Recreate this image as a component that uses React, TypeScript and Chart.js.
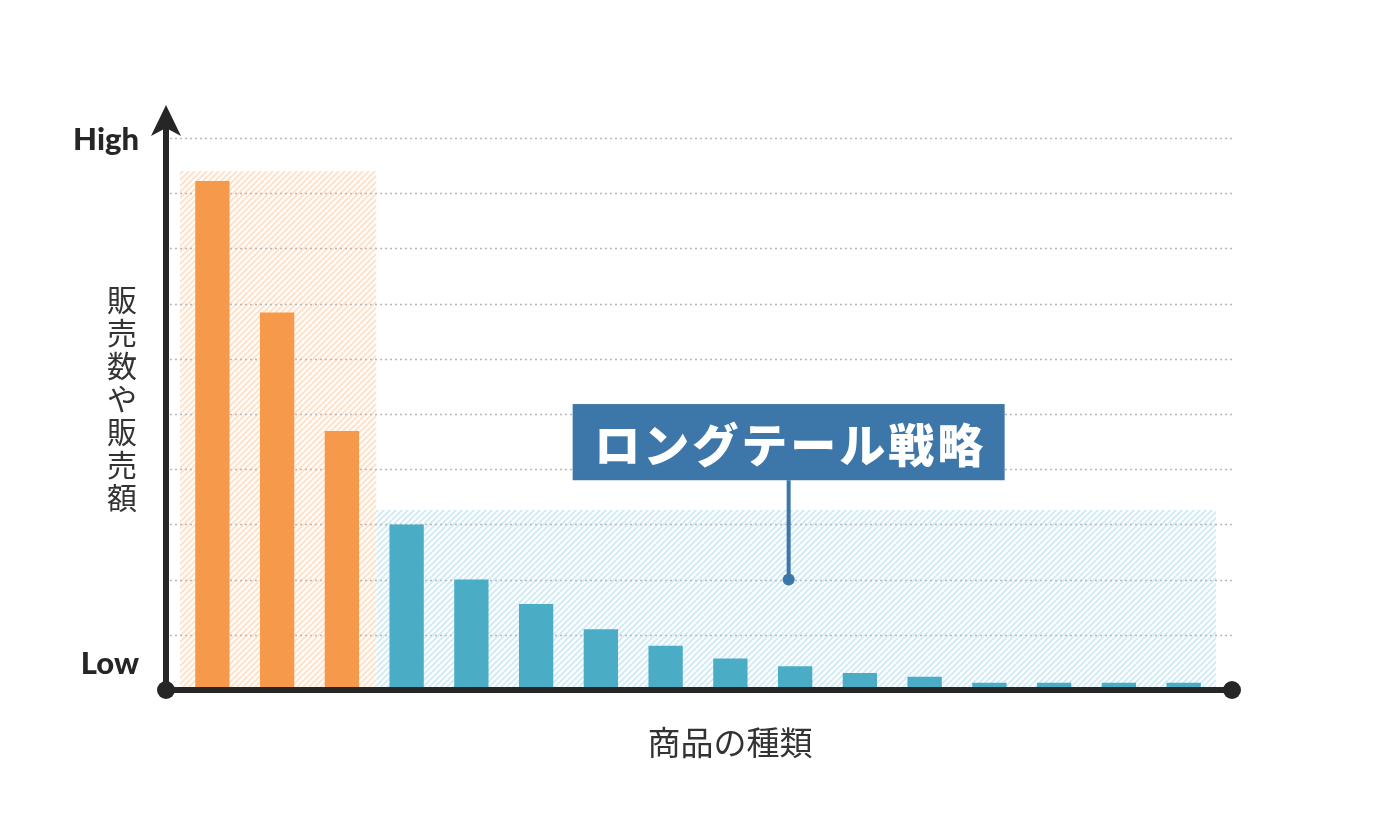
import { useEffect, useRef } from 'react';
import { Chart, registerables } from 'chart.js';

Chart.register(...registerables);

const categories = ['P1', 'P2', 'P3', 'P4', 'P5', 'P6', 'P7', 'P8', 'P9', 'P10', 'P11', 'P12', 'P13', 'P14', 'P15', 'P16'];
const salesValues = [9.22, 6.84, 4.69, 3.0, 2.0, 1.56, 1.1, 0.8, 0.57, 0.43, 0.31, 0.24, 0.13, 0.13, 0.13, 0.13];
const headCount = 3;
const gridValues = [1, 2, 3, 4, 5, 6, 7, 8, 9, 10];
const yMin = 0;
const yMax = 10;
const headZoneTop = 9.4;
const tailZoneTop = 3.26;
const yAxisTitle = '販売数や販売額';
const xAxisTitle = '商品の種類';
const highLabel = 'High';
const lowLabel = 'Low';
const calloutText = 'ロングテール戦略';
const calloutAnchorIndex = 8.9;
const calloutAnchorValue = 2;
const calloutBottomValue = 3.8;
const calloutTopValue = 5.18;

const ORANGE = '#f7994a';
const TEAL = '#4aacc5';
const CALLOUT = '#3d76a8';
const AXIS = '#262626';
const CJK = '"Noto Sans CJK JP", "Noto Sans CJK SC", sans-serif';

function makePattern(ctx: CanvasRenderingContext2D, stripe: string) {
  const size = 6;
  const c = document.createElement('canvas');
  c.width = size;
  c.height = size;
  const p = c.getContext('2d')!;
  p.fillStyle = '#ffffff';
  p.fillRect(0, 0, size, size);
  p.strokeStyle = stripe;
  p.lineWidth = 2;
  p.beginPath();
  p.moveTo(-1, size + 1);
  p.lineTo(size + 1, -1);
  p.moveTo(-1, 1);
  p.lineTo(1, -1);
  p.moveTo(size - 1, size + 1);
  p.lineTo(size + 1, size - 1);
  p.stroke();
  return ctx.createPattern(c, 'repeat')!;
}

const decorPlugin = {
  id: 'decor',
  beforeDatasetsDraw(chart: any) {
    const { ctx, chartArea, scales } = chart;
    const x = scales.x;
    const y = scales.y;
    const band = x.getPixelForValue(1) - x.getPixelForValue(0);
    const left = chartArea.left;
    const right = chartArea.right;
    const split = x.getPixelForValue(headCount - 1) + band / 2 + 2;
    const y0 = y.getPixelForValue(0);
    const axisX = left - 14;
    const axisEndX = right + 16;
    ctx.save();
    ctx.fillStyle = makePattern(ctx, '#fde2cc');
    const hTop = y.getPixelForValue(headZoneTop);
    ctx.fillRect(left, hTop, split - left, y0 - hTop);
    ctx.fillStyle = makePattern(ctx, '#d5ebf3');
    const tTop = y.getPixelForValue(tailZoneTop);
    ctx.fillRect(split, tTop, right - split, y0 - tTop);

    ctx.strokeStyle = '#b8b8b8';
    ctx.lineWidth = 1.6;
    ctx.setLineDash([2, 3]);
    gridValues.forEach((v) => {
      const py = Math.round(y.getPixelForValue(v)) + 0.5;
      ctx.beginPath();
      ctx.moveTo(axisX + 4, py);
      ctx.lineTo(axisEndX, py);
      ctx.stroke();
    });
    ctx.restore();
  },
  afterDatasetsDraw(chart: any) {
    const { ctx, chartArea, scales } = chart;
    const x = scales.x;
    const y = scales.y;
    const y0 = y.getPixelForValue(0);
    const yTop = y.getPixelForValue(yMax);
    const axisX = chartArea.left - 14;
    const axisEndX = chartArea.right + 16;
    ctx.save();
    ctx.setLineDash([]);
    ctx.strokeStyle = AXIS;
    ctx.fillStyle = AXIS;
    ctx.lineWidth = 6;
    // y axis
    const tipY = yTop - 33;
    ctx.beginPath();
    ctx.moveTo(axisX, y0);
    ctx.lineTo(axisX, tipY + 22);
    ctx.stroke();
    ctx.beginPath();
    ctx.moveTo(axisX, tipY);
    ctx.lineTo(axisX + 15, tipY + 31);
    ctx.lineTo(axisX, tipY + 23);
    ctx.lineTo(axisX - 15, tipY + 31);
    ctx.closePath();
    ctx.fill();
    // x axis
    ctx.beginPath();
    ctx.moveTo(axisX, y0);
    ctx.lineTo(axisEndX, y0);
    ctx.stroke();
    ctx.beginPath();
    ctx.arc(axisX, y0, 9, 0, Math.PI * 2);
    ctx.fill();
    ctx.beginPath();
    ctx.arc(axisEndX, y0, 9, 0, Math.PI * 2);
    ctx.fill();

    // High / Low
    ctx.font = '900 31px Lato, "Open Sans", sans-serif';
    ctx.textAlign = 'right';
    ctx.textBaseline = 'middle';
    ctx.fillStyle = AXIS;
    ctx.fillText(highLabel, axisX - 27, yTop + 2);
    ctx.fillText(lowLabel, axisX - 27, y0 - 26);

    // y title (vertical)
    ctx.font = `400 30px ${CJK}`;
    ctx.textAlign = 'center';
    ctx.fillStyle = '#333333';
    const chars = Array.from(yAxisTitle);
    chars.forEach((ch, i) => {
      ctx.fillText(ch, axisX - 44, 300 + i * 33);
    });

    // x title
    ctx.font = `400 33px ${CJK}`;
    ctx.fillText(xAxisTitle, (axisX + axisEndX) / 2 + 31, y0 + 52);

    // callout
    const ax = x.getPixelForValue(calloutAnchorIndex);
    const ay = y.getPixelForValue(calloutAnchorValue);
    const bTop = y.getPixelForValue(calloutTopValue);
    const bBot = y.getPixelForValue(calloutBottomValue);
    ctx.font = `900 46px ${CJK}`;
    (ctx as any).letterSpacing = '3px';
    const tw = ctx.measureText(calloutText).width;
    const bw = tw + 40;
    ctx.fillStyle = CALLOUT;
    ctx.fillRect(ax - bw / 2, bTop, bw, bBot - bTop);
    ctx.strokeStyle = CALLOUT;
    ctx.lineWidth = 4;
    ctx.beginPath();
    ctx.moveTo(ax, bBot);
    ctx.lineTo(ax, ay);
    ctx.stroke();
    ctx.beginPath();
    ctx.arc(ax, ay, 6, 0, Math.PI * 2);
    ctx.fill();
    ctx.fillStyle = '#ffffff';
    ctx.textAlign = 'center';
    ctx.fillText(calloutText, ax + 1.5, (bTop + bBot) / 2 + 2);
    (ctx as any).letterSpacing = '0px';
    ctx.restore();
  },
};

export default function App() {
  const ref = useRef<HTMLCanvasElement>(null);
  useEffect(() => {
    document.body.style.margin = '0';
    const canvas = ref.current!;
    const chart = new Chart(canvas, {
      type: 'bar',
      data: {
        labels: categories,
        datasets: [
          {
            data: salesValues,
            backgroundColor: salesValues.map((_, i) => (i < headCount ? ORANGE : TEAL)),
            borderWidth: 0,
            barPercentage: 0.53,
            categoryPercentage: 1,
          },
        ],
      },
      options: {
        responsive: false,
        animation: false,
        layout: { padding: { left: 180, right: 177, top: 138, bottom: 141 } },
        plugins: { legend: { display: false }, tooltip: { enabled: false }, title: { display: false } },
        scales: {
          x: { display: false, offset: true },
          y: { display: false, min: yMin, max: yMax },
        },
      },
      plugins: [decorPlugin],
    });
    return () => chart.destroy();
  }, []);
  return <canvas ref={ref} width={1393} height={831} style={{ display: 'block', width: 1393, height: 831 }} />;
}
